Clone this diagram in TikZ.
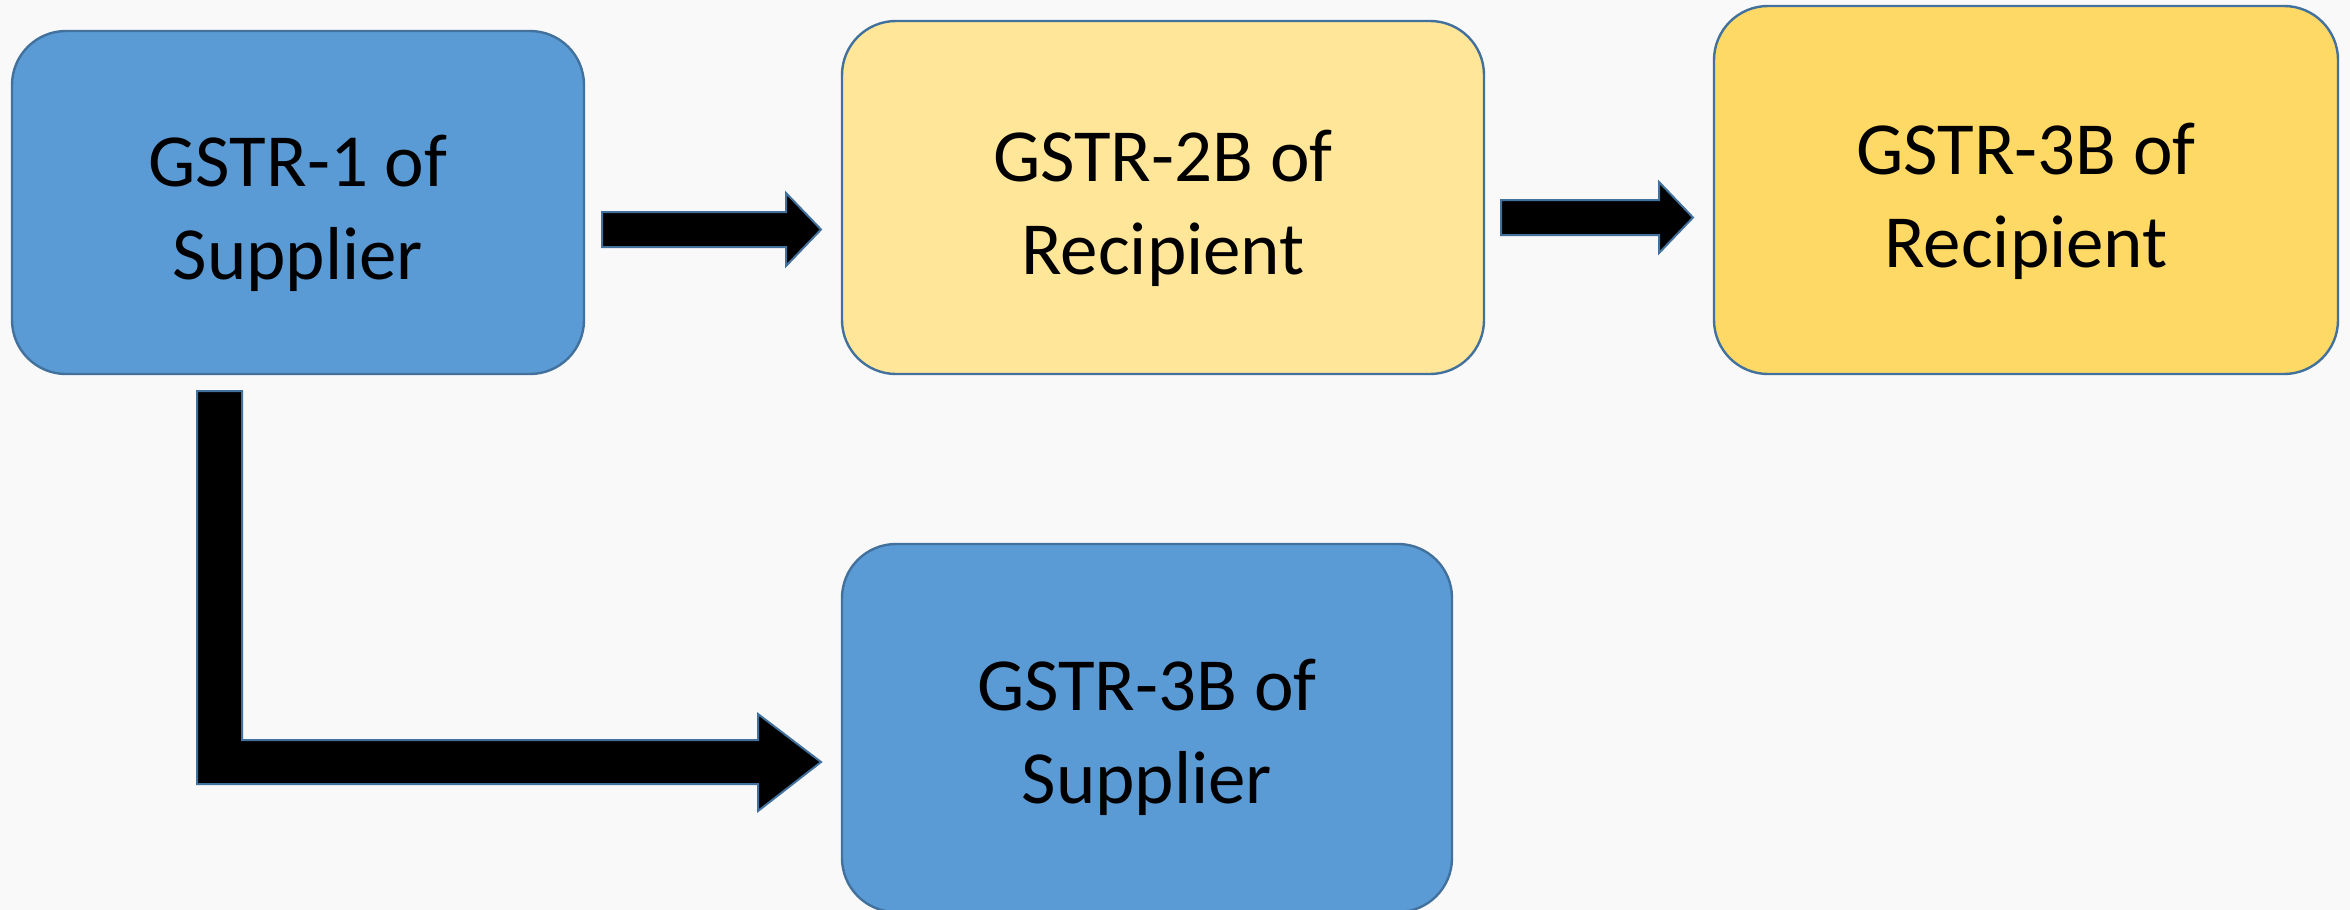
\documentclass[tikz,border=0pt]{standalone}
\usepackage{fontspec}
\setmainfont{Carlito}
\definecolor{bg}{HTML}{F9F9F9}
\definecolor{bluefill}{HTML}{5B9BD5}
\definecolor{edge}{HTML}{41719C}
\definecolor{paleyellow}{HTML}{FFE699}
\definecolor{gold}{HTML}{FFD966}
\begin{document}
\begin{tikzpicture}[x=0.5pt,y=-0.5pt,
  box/.style={draw=edge, line width=1.2pt, rounded corners=27pt, inner sep=0pt},
  lbl/.style={inner sep=0pt, align=center, font=\fontsize{37.5}{46.5}\selectfont},
  blockarrow/.style={fill=black, draw=edge, line width=1pt, line join=miter}]
\fill[bg] (0,0) rectangle (2350,910);
\useasboundingbox (0,0) rectangle (2350,910);

% return boxes
\node[box, fill=bluefill, minimum width=286pt, minimum height=171.5pt] (gstr1) at (298,202.5) {};
\node[box, fill=paleyellow, minimum width=321pt, minimum height=176.5pt] (gstr2b) at (1163,197.5) {};
\node[box, fill=gold, minimum width=312pt, minimum height=184pt] (gstr3br) at (2026,190) {};
\node[box, fill=bluefill, minimum width=305pt, minimum height=184pt] (gstr3bs) at (1147,728) {};

% their captions
\node[lbl] (t1) at ([yshift=-5.5pt]gstr1.center) {GSTR-1 of\\Supplier};
\node[lbl] (t2) at ([yshift=-5.5pt]gstr2b.center) {GSTR-2B of\\Recipient};
\node[lbl] (t3) at ([yshift=-5.5pt]gstr3br.center) {GSTR-3B of\\Recipient};
\node[lbl] (t4) at ([yshift=-4.5pt]gstr3bs.center) {GSTR-3B of\\Supplier};

% block arrows
\draw[blockarrow] (602,212) -- (786,212) -- (786,193) -- (821,229.5) -- (786,266) -- (786,247) -- (602,247) -- cycle;
\draw[blockarrow] (1501,200) -- (1659,200) -- (1659,182) -- (1693,217.5) -- (1659,253) -- (1659,235) -- (1501,235) -- cycle;
\draw[blockarrow] (197,391) -- (242,391) -- (242,740) -- (758,740) -- (758,714) -- (821,762) -- (758,811) -- (758,784) -- (197,784) -- cycle;
\end{tikzpicture}
\end{document}
